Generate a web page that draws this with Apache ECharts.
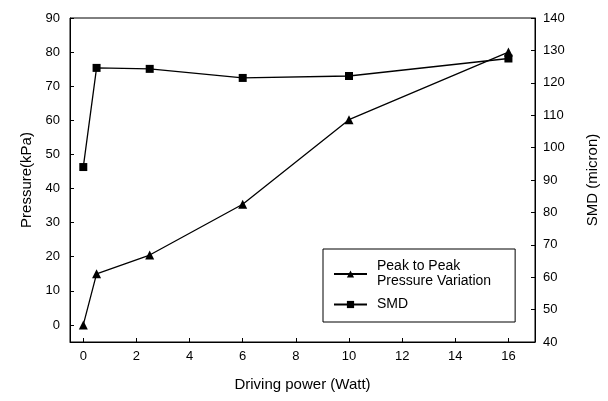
<!DOCTYPE html>
<html><head><meta charset="utf-8">
<script src="https://cdn.jsdelivr.net/npm/echarts@6/dist/echarts.min.js"></script>
<style>html,body{margin:0;padding:0;background:#fff}#c{width:608px;height:401px}</style>
</head><body><div id="c"></div>
<script>
var powerX = [0, 0.5, 2.5, 6, 10, 16];
var pressure = [0, 15, 20.5, 35.4, 60.2, 80];
var smd = [94, 124.6, 124.3, 121.5, 122.1, 127.5];
var pressureName = 'Peak to Peak\nPressure Variation';
var smdName = 'SMD';

function pairs(xs, ys){ return xs.map(function(x,i){return [x, ys[i]];}); }
var font = 'Liberation Sans, Arial, sans-serif';
var chart = echarts.init(document.getElementById('c'));
chart.setOption({
  animation: false,
  backgroundColor: '#fff',
  grid: {left: 70, right: 73, top: 18, bottom: 59, show: true, borderColor: '#000', borderWidth: 1, containLabel: false},
  legend: {
    orient: 'vertical', left: 323, top: 249,
    data: [pressureName, smdName],
    borderColor: '#000', borderWidth: 1, padding: [10, 24, 10, 10],
    itemWidth: 33, itemHeight: 9, itemGap: 8,
    textStyle: {fontFamily: font, fontSize: 14, color: '#000', lineHeight: 15, padding: [0, 0, 0, 5]},
    backgroundColor: '#fff'
  },
  xAxis: {
    type: 'value', min: -0.5, max: 17, splitNumber: 9,
    name: 'Driving power (Watt)', nameLocation: 'middle', nameGap: 35,
    nameTextStyle: {fontFamily: font, fontSize: 15, color: '#000'},
    axisLine: {show: true, onZero: false, lineStyle: {color: '#000', width: 1}},
    axisTick: {show: true, inside: true, length: 4, lineStyle: {color: '#000'}},
    axisLabel: {showMinLabel: false, showMaxLabel: false, fontFamily: font, fontSize: 13, color: '#000', margin: 8},
    splitLine: {show: false}
  },
  yAxis: [{
    type: 'value', min: -5, max: 90, splitNumber: 9, position: 'left',
    name: 'Pressure(kPa)', nameLocation: 'middle', nameGap: 36, nameRotate: 90,
    nameTextStyle: {fontFamily: font, fontSize: 15, color: '#000'},
    axisLine: {show: true, onZero: false, lineStyle: {color: '#000', width: 1}},
    axisTick: {show: true, inside: true, length: 4, lineStyle: {color: '#000'}},
    axisLabel: {showMinLabel: false, fontFamily: font, fontSize: 13, color: '#000', margin: 10},
    splitLine: {show: false}
  }, {
    type: 'value', min: 40, max: 140, interval: 10, position: 'right',
    name: 'SMD (micron)', nameLocation: 'middle', nameGap: 50, nameRotate: 90,
    nameTextStyle: {fontFamily: font, fontSize: 15, color: '#000'},
    axisLine: {show: true, onZero: false, lineStyle: {color: '#000', width: 1}},
    axisTick: {show: true, inside: true, length: 4, lineStyle: {color: '#000'}},
    axisLabel: {fontFamily: font, fontSize: 13, color: '#000', margin: 8},
    splitLine: {show: false}
  }],
  series: [{
    name: pressureName, type: 'line', yAxisIndex: 0,
    data: pairs(powerX, pressure),
    symbol: 'triangle', symbolSize: 9,
    lineStyle: {color: '#000', width: 1.3}, itemStyle: {color: '#000'}
  }, {
    name: smdName, type: 'line', yAxisIndex: 1,
    data: pairs(powerX, smd),
    symbol: 'rect', symbolSize: 8,
    lineStyle: {color: '#000', width: 1.3}, itemStyle: {color: '#000'}
  }]
});
</script></body></html>
